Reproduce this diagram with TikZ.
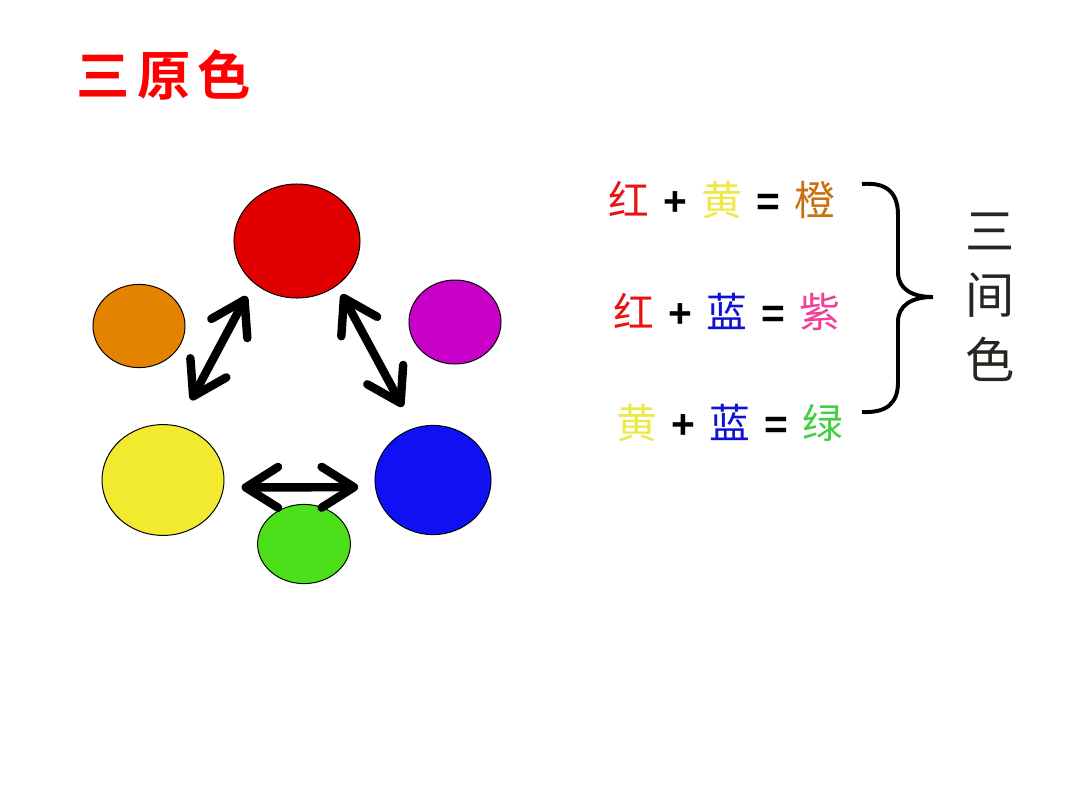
\documentclass[tikz,border=0pt]{standalone}
\usepackage{fontspec}
\setmainfont{Liberation Sans}
\newfontfamily\cjk{Noto Sans CJK SC}[BoldFont={Noto Sans CJK SC Bold}]
\usetikzlibrary{arrows.meta,shapes.geometric}
\definecolor{cred}{RGB}{224,0,0}
\definecolor{corange}{RGB}{227,131,0}
\definecolor{cmagenta}{RGB}{200,0,200}
\definecolor{cyellow}{RGB}{242,234,46}
\definecolor{cblue}{RGB}{16,16,245}
\definecolor{cgreen}{RGB}{76,224,26}
\definecolor{tred}{RGB}{232,20,20}
\definecolor{tyellow}{RGB}{238,232,70}
\definecolor{torange}{RGB}{200,112,16}
\definecolor{tblue}{RGB}{16,16,210}
\definecolor{tpink}{RGB}{240,64,154}
\definecolor{tgreen}{RGB}{64,208,64}
\definecolor{tdark}{RGB}{40,36,32}
\newcommand{\plus}{\hspace{2pt}\textbf{+}\hspace{2pt}}
\newcommand{\eq}{\hspace{2pt}\textbf{=}\hspace{2pt}}
\begin{document}
\begin{tikzpicture}[x=0.025cm, y=-0.025cm,
  blob/.style={ellipse, draw=black, line width=0.7pt, inner sep=0pt},
  mix/.style={font=\fontsize{29}{31}\selectfont, inner sep=0pt},
  dblarrow/.style={{Straight Barb[length=23pt,width=29pt,round]}-{Straight Barb[length=23pt,width=29pt,round]}, line width=6pt}]
\useasboundingbox (0,0) rectangle (1080,810);
% title
\node[text=red, font=\cjk\bfseries\fontsize{38}{40}\selectfont] (title) at (164,75) {三\hspace{5pt}原\hspace{5pt}色};
% primary and secondary colours
\node[blob, fill=cred, minimum width=3.15cm, minimum height=2.85cm] (red) at (297,241) {};
\node[blob, fill=corange, minimum width=2.3cm, minimum height=2.08cm] (orange) at (139,326) {};
\node[blob, fill=cmagenta, minimum width=2.3cm, minimum height=2.1cm] (magenta) at (455,322) {};
\node[blob, fill=cyellow, minimum width=3.05cm, minimum height=2.77cm] (yellow) at (163,480) {};
\node[blob, fill=cblue, minimum width=2.9cm, minimum height=2.73cm] (blue) at (433,480) {};
\node[blob, fill=cgreen, minimum width=2.32cm, minimum height=1.98cm] (green) at (304,544) {};
\draw[dblarrow, shorten <=0.375cm, shorten >=0.725cm] (red.224) -- (yellow.75);
\draw[dblarrow, shorten <=0.25cm, shorten >=0.6cm] (red.312) -- (blue.110);
\draw[dblarrow, shorten <=0.44cm, shorten >=0.42cm] (yellow.353) -- (blue.187);
% mixing rules
\node[mix] (mixa) at (722,200) {{\cjk\color{tred}红} \plus{} {\cjk\color{tyellow}黄} \eq{} {\cjk\color{torange}橙}};
\node[mix] (mixb) at (727,312) {{\cjk\color{tred}红} \plus{} {\cjk\color{tblue}蓝} \eq{} {\cjk\color{tpink}紫}};
\node[mix] (mixc) at (730,423) {{\cjk\color{tyellow}黄} \plus{} {\cjk\color{tblue}蓝} \eq{} {\cjk\color{tgreen}绿}};
% brace
\draw[line width=2.8pt] (862,184) .. controls (886,182) and (898,192) .. (898,215) -- (898,272)
  .. controls (898,289) and (912,297) .. (933,297) .. controls (912,297) and (898,305) .. (898,322)
  -- (898,382) .. controls (898,404) and (886,413) .. (862,412);
\node[text=tdark, font=\cjk\fontsize{35}{46}\selectfont, align=center] (secondary) at (990,297) {三\\间\\色};
\end{tikzpicture}
\end{document}
